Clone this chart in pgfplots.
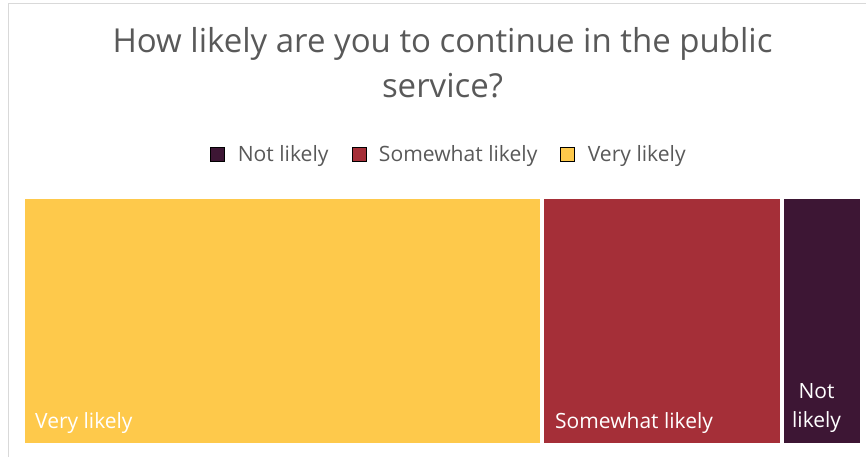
\documentclass[border=0pt]{standalone}
\usepackage{pgfplots}
\pgfplotsset{compat=1.18}
\usepackage{fontspec}
\setmainfont{Open Sans}
\definecolor{cyellow}{HTML}{FEC94B}
\definecolor{cred}{HTML}{A52F38}
\definecolor{cpurple}{HTML}{3D1634}
\definecolor{tgray}{HTML}{595959}
\definecolor{fgray}{HTML}{D9D9D9}
\begin{document}
\begin{tikzpicture}[x=1pt,y=1pt]
\path[use as bounding box] (0,0) rectangle (866,457);
\draw[fgray, line width=1pt] (8,-5) -- (8,453) -- (880,453);
\begin{axis}[
  at={(23pt,12pt)}, anchor=south west,
  width=839pt, height=248pt, scale only axis,
  hide axis,
  xmin=0, xmax=105, ymin=0, ymax=1,
  clip=false,
  legend columns=3,
  legend image code/.code={\fill[#1] (0pt,-7pt) rectangle (14pt,7pt);},
  legend style={at={(0.5066,1.1734)}, anchor=center, draw=none, fill=none,
    font=\fontsize{21.1}{26}\selectfont, text=tgray,
    nodes={inner sep=0pt},
    /tikz/every odd column/.append style={column sep=13pt},
    /tikz/every even column/.append style={column sep=23pt}},
]
\addlegendimage{fill=cpurple}\addlegendentry{Not likely}
\addlegendimage{fill=cred}\addlegendentry{Somewhat likely}
\addlegendimage{fill=cyellow}\addlegendentry{Very likely}
% Very likely: 65, Somewhat likely: 30, Not likely: 10
\addplot[forget plot, fill=cyellow, draw=white, line width=4pt] coordinates {(0,1) (65,1)} \closedcycle;
\addplot[forget plot, fill=cred, draw=white, line width=4pt] coordinates {(65,1) (95,1)} \closedcycle;
\addplot[forget plot, fill=cpurple, draw=white, line width=4pt] coordinates {(95,1) (105,1)} \closedcycle;
\node[anchor=base west, text=white, inner sep=0pt, font=\fontsize{21}{26}\selectfont] at ([xshift=12pt,yshift=16pt]axis cs:0,0) {Very likely};
\node[anchor=base west, text=white, inner sep=0pt, font=\fontsize{21}{26}\selectfont] at ([xshift=12.6pt,yshift=16pt]axis cs:65,0) {Somewhat likely};
\node[anchor=base, text=white, inner sep=0pt, align=center, font=\fontsize{21}{29}\selectfont] at ([xshift=34.5pt,yshift=17pt]axis cs:95,0) {Not\\likely};
\end{axis}
\node[anchor=base, align=center, inner sep=0pt, text=tgray, font=\fontsize{33}{45}\selectfont] at (442.5,359) {How likely are you to continue in the public\\service?};
\end{tikzpicture}
\end{document}
